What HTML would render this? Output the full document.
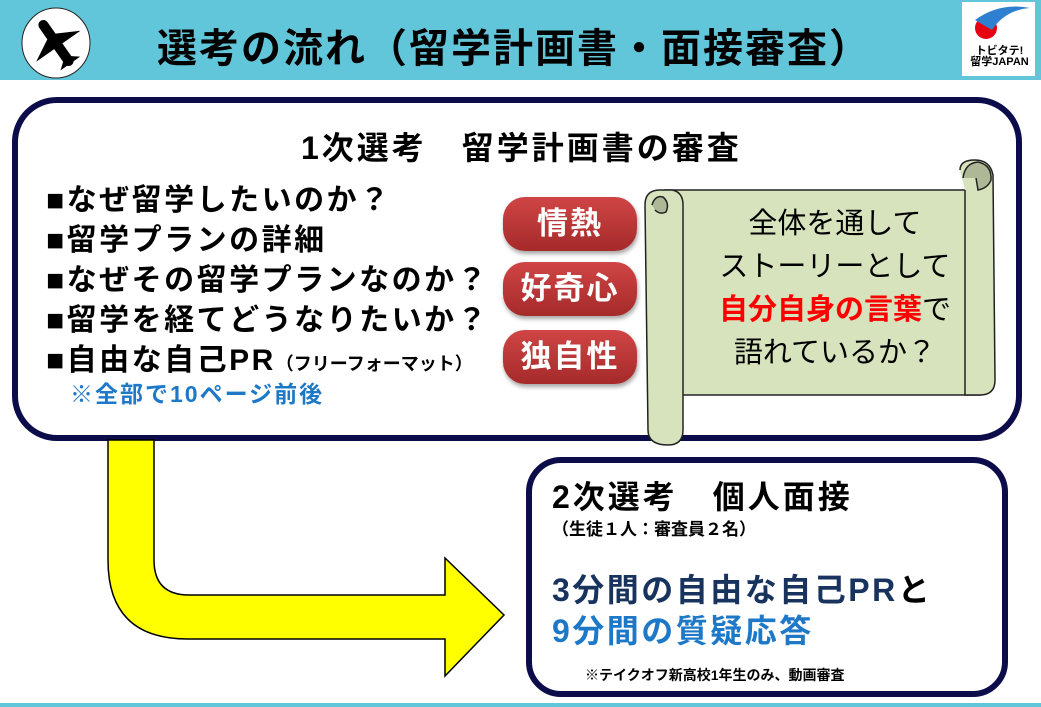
<!DOCTYPE html>
<html><head><meta charset="utf-8"><style>
body{margin:0;width:1041px;height:707px;position:relative;background:#fff;overflow:hidden;font-family:"Liberation Sans","Noto Sans CJK JP",sans-serif;}
.a{position:absolute;white-space:nowrap;}
.b{font-weight:bold;}
.pill{position:absolute;left:503px;width:134px;height:54px;border-radius:22px;background:linear-gradient(#d04545,#a52a2a);box-shadow:1px 3px 4px rgba(0,0,0,.35);color:#fff;font-weight:bold;font-size:31px;text-align:center;line-height:54px;letter-spacing:2px;}
</style></head><body>
<div class="a" style="left:0;top:0;width:1041px;height:80px;background:#62c6da;"></div>
<div class="a" style="left:0;top:703px;width:1041px;height:4px;background:#62c6da;"></div>
<svg class="a" style="left:0;top:0" width="1041" height="707">
 <ellipse cx="56" cy="43" rx="34" ry="35" fill="#fff" stroke="#222" stroke-width="1"/>
 <g transform="translate(56,43) rotate(-35)" fill="#000">
  <rect x="-5" y="-27" width="10" height="54" rx="5"/>
  <polygon points="-27,4 27,4 5,-8 -5,-8"/>
  <polygon points="-12,25 12,25 3,18 -3,18"/>
 </g>
 <rect x="962" y="2" width="73" height="74" fill="#fff"/>
 <circle cx="986" cy="28" r="11" fill="#e60012"/>
 <path d="M975 20 Q1000 2 1030 8 Q1005 10 992 30" fill="#2f7fd0"/>
 <rect x="15" y="100" width="1004" height="338" rx="42" fill="#fff" stroke="#0c0c4a" stroke-width="6"/>
 <rect x="529" y="460" width="476" height="234" rx="32" fill="#fff" stroke="#0c0c4a" stroke-width="6"/>
 <path d="M108 440 L154 440 L154 560 Q154 595 189 595 L445 595 L445 558 L504 615 L445 676 L445 639 L188 639 Q108 639 108 560 Z" fill="#ffff00" stroke="#000" stroke-width="1.5"/>
 <g stroke="#222" stroke-width="1.5" fill="#d7e3bd">
  <path d="M665 190 L980 190 L980 395 L670 395 Z"/>
  <path d="M960 170 Q960 160 975 160 Q990 160 993 175 L995 380 Q995 395 980 395 L965 395 L965 190" />
  <path d="M645 205 Q645 190 660 190 L672 190 Q683 192 683 205 L683 430 Q683 445 668 445 Q648 445 648 430 Z"/>
  <path d="M652 205 Q655 195 663 197 Q670 203 666 212 Q660 215 655 210" fill="#afb896"/>
  <path d="M963 178 Q965 163 978 162 Q992 165 991 180 Q988 188 978 190 L976 178" fill="#afb896"/>
 </g>
</svg>
<div class="a b" style="left:157px;top:16px;font-size:40px;letter-spacing:2px;">選考の流れ（留学計画書・面接審査）</div>
<div class="a b" style="left:963px;top:46px;width:73px;text-align:center;font-size:11px;line-height:11px;">トビタテ!<br>留学JAPAN</div>
<div class="a b" style="left:301px;top:123px;font-size:32px;letter-spacing:3px;">1次選考　留学計画書の審査</div>
<div class="a b" style="left:46px;top:181px;font-size:30px;line-height:40px;letter-spacing:2.5px;">■なぜ留学したいのか？<br>■留学プランの詳細<br>■なぜその留学プランなのか？<br>■留学を経てどうなりたいか？<br>■自由な自己PR<span style="font-size:18px;letter-spacing:0">（フリーフォーマット）</span></div>
<div class="a b" style="left:70px;top:375px;font-size:23px;letter-spacing:2px;color:#1e78c8;">※全部で10ページ前後</div>
<div class="pill" style="top:197px;">情熱</div>
<div class="pill" style="top:262px;">好奇心</div>
<div class="pill" style="top:330px;">独自性</div>
<div class="a" style="left:690px;top:203px;width:290px;text-align:center;font-size:29px;line-height:43px;">全体を通して<br>ストーリーとして<br><span style="color:#f00;font-weight:bold">自分自身の言葉</span>で<br>語れているか？</div>
<div class="a b" style="left:552px;top:472px;font-size:32px;letter-spacing:3px;">2次選考　個人面接</div>
<div class="a b" style="left:552px;top:515px;font-size:17px;">（生徒１人：審査員２名）</div>
<div class="a b" style="left:552px;top:565px;font-size:32px;letter-spacing:2.5px;color:#17335e;">3分間の自由な自己PR<span style="color:#000">と</span></div>
<div class="a b" style="left:552px;top:606px;font-size:32px;letter-spacing:2.5px;color:#1e78c8;">9分間の質疑応答</div>
<div class="a b" style="left:585px;top:665px;font-size:14px;">※テイクオフ新高校1年生のみ、動画審査</div>
</body></html>
